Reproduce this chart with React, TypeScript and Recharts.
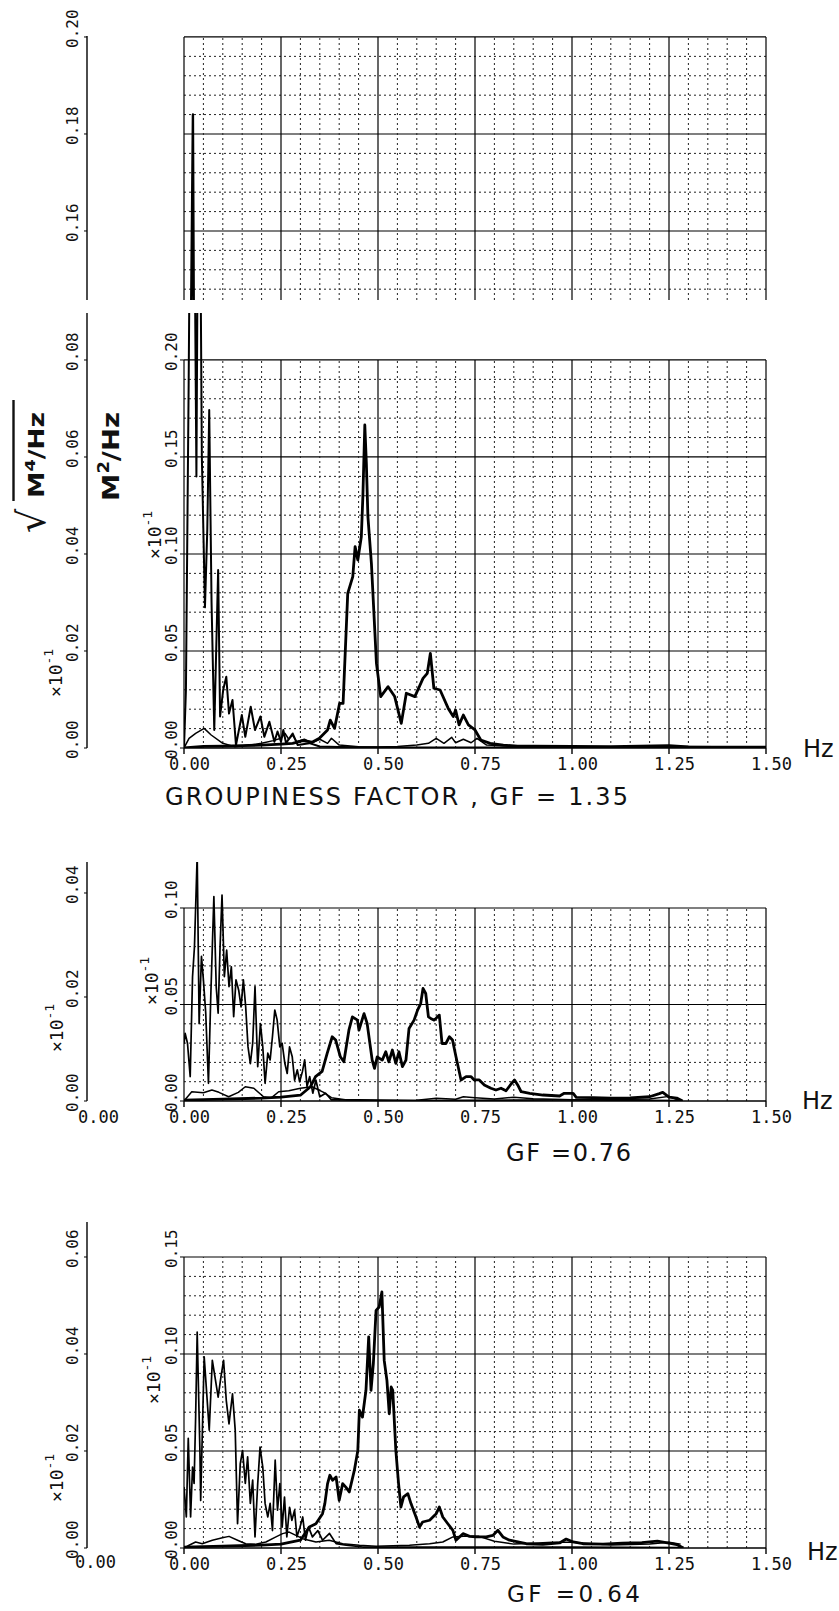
import React from 'react';
import { LineChart, Line, XAxis, YAxis, ReferenceLine } from 'recharts';

const hzTicks = [0, 0.25, 0.5, 0.75, 1.0, 1.25, 1.5];

// ---- GF = 1.35 ----
// envelope spectrum, read on the outer (sqrt(M4/Hz)) axis
const p1EnvHz = [0, 0.005, 0.012, 0.018, 0.023, 0.027, 0.032, 0.037, 0.041, 0.046, 0.054, 0.06, 0.065, 0.071, 0.078, 0.088, 0.093, 0.101, 0.109, 0.116, 0.125, 0.134, 0.149, 0.158, 0.172, 0.183, 0.197, 0.207, 0.22, 0.233, 0.241, 0.25, 0.256, 0.263, 0.28, 0.293, 0.323, 0.35, 0.4, 0.6, 1.0, 1.5];
const p1Env = [0, 0.012, 0.075, 0.14, 0.184, 0.11, 0.056, 0.13, 0.12, 0.06, 0.029, 0.045, 0.0697, 0.03, 0.0037, 0.0367, 0.0065, 0.012, 0.0147, 0.0071, 0.0099, 0.0006, 0.0068, 0.0023, 0.0085, 0.0037, 0.0065, 0.0023, 0.0054, 0.0013, 0.0034, 0.0013, 0.0037, 0.001, 0.003, 0.0006, 0.001, 0.0003, 0.0002, 0.0001, 0.0001, 0];
// wave spectrum, M2/Hz axis
const p1SpecHz = [0, 0.05, 0.1, 0.15, 0.2, 0.25, 0.28, 0.306, 0.33, 0.349, 0.37, 0.377, 0.388, 0.401, 0.41, 0.422, 0.435, 0.441, 0.448, 0.457, 0.461, 0.466, 0.47, 0.474, 0.483, 0.496, 0.507, 0.526, 0.543, 0.56, 0.573, 0.595, 0.616, 0.627, 0.635, 0.644, 0.66, 0.681, 0.694, 0.7, 0.709, 0.72, 0.733, 0.75, 0.765, 0.789, 0.823, 0.86, 0.9, 1.0, 1.1, 1.25, 1.3, 1.5];
const p1Spec = [0, 0.0008, 0.001, 0.0012, 0.0015, 0.002, 0.0024, 0.0038, 0.003, 0.005, 0.0093, 0.0144, 0.0101, 0.023, 0.023, 0.0797, 0.0883, 0.1038, 0.0969, 0.1089, 0.1296, 0.1665, 0.1467, 0.1192, 0.0952, 0.0436, 0.0265, 0.0316, 0.0265, 0.0127, 0.0282, 0.0265, 0.0359, 0.0385, 0.0488, 0.0308, 0.0299, 0.0204, 0.0162, 0.0196, 0.0119, 0.017, 0.0119, 0.0093, 0.0041, 0.0024, 0.0015, 0.001, 0.0009, 0.0008, 0.0007, 0.0012, 0.0006, 0.0004];
const p1LowHz = [0, 0.013, 0.03, 0.052, 0.07, 0.1, 0.13, 0.17, 0.2, 0.23, 0.25, 0.26, 0.27, 0.28, 0.29, 0.31, 0.33, 0.35, 0.37, 0.38, 0.4, 0.45, 0.5, 0.55, 0.6, 0.63, 0.65, 0.67, 0.69, 0.7, 0.72, 0.74, 0.755, 0.78, 0.85, 1.0, 1.25, 1.5];
const p1Low = [0, 0.005, 0.0075, 0.0101, 0.0067, 0.0024, 0.0007, 0.0015, 0.0024, 0.0038, 0.005, 0.0076, 0.0045, 0.0067, 0.0033, 0.0045, 0.0027, 0.0045, 0.0024, 0.005, 0.0015, 0.0007, 0.0005, 0.0008, 0.0015, 0.0024, 0.005, 0.0024, 0.0055, 0.0027, 0.0045, 0.0027, 0.005, 0.0015, 0.0008, 0.0005, 0.0008, 0.0005];

// ---- GF = 0.76 ----
const p2EnvHz = [0, 0.003, 0.009, 0.016, 0.022, 0.027, 0.034, 0.039, 0.045, 0.05, 0.056, 0.063, 0.069, 0.077, 0.083, 0.088, 0.093, 0.098, 0.104, 0.11, 0.116, 0.122, 0.128, 0.134, 0.141, 0.147, 0.153, 0.159, 0.165, 0.171, 0.177, 0.183, 0.19, 0.197, 0.203, 0.209, 0.216, 0.222, 0.228, 0.234, 0.24, 0.247, 0.253, 0.26, 0.266, 0.272, 0.279, 0.285, 0.292, 0.298, 0.305, 0.311, 0.317, 0.324, 0.332, 0.34, 0.35, 0.365, 0.38, 0.45, 0.6, 1.0, 1.28];
const p2Env = [0.011, 0.013, 0.0111, 0.0047, 0.0239, 0.0297, 0.0473, 0.0149, 0.0278, 0.0233, 0.0169, 0.0034, 0.0201, 0.0393, 0.022, 0.0169, 0.0297, 0.0396, 0.0239, 0.029, 0.022, 0.0258, 0.0162, 0.0233, 0.0213, 0.0181, 0.0233, 0.0181, 0.0104, 0.0072, 0.0111, 0.022, 0.0066, 0.0149, 0.0104, 0.0034, 0.0092, 0.0079, 0.0124, 0.0175, 0.0156, 0.0104, 0.0111, 0.0072, 0.0053, 0.0104, 0.0085, 0.004, 0.006, 0.0037, 0.0056, 0.0079, 0.0028, 0.0047, 0.0015, 0.004, 0.0008, 0.0015, 0.0002, 0.0002, 0.0001, 0.0002, 0.0001];
const p2SpecHz = [0, 0.1, 0.2, 0.25, 0.3, 0.326, 0.339, 0.356, 0.369, 0.382, 0.391, 0.403, 0.412, 0.425, 0.434, 0.447, 0.451, 0.464, 0.472, 0.485, 0.491, 0.498, 0.511, 0.52, 0.528, 0.537, 0.546, 0.554, 0.563, 0.572, 0.58, 0.593, 0.602, 0.61, 0.616, 0.623, 0.63, 0.636, 0.645, 0.658, 0.665, 0.675, 0.684, 0.692, 0.701, 0.714, 0.727, 0.74, 0.748, 0.761, 0.774, 0.791, 0.804, 0.817, 0.83, 0.843, 0.852, 0.86, 0.869, 0.891, 0.925, 0.968, 0.98, 1.003, 1.011, 1.054, 1.1, 1.15, 1.2, 1.225, 1.234, 1.25, 1.27, 1.285];
const p2Spec = [0.0005, 0.001, 0.0015, 0.002, 0.003, 0.0074, 0.0126, 0.0153, 0.0247, 0.0333, 0.0316, 0.0229, 0.0203, 0.0367, 0.0436, 0.0419, 0.0367, 0.0453, 0.0402, 0.0212, 0.0169, 0.0229, 0.0212, 0.0255, 0.0203, 0.0264, 0.0195, 0.0255, 0.0178, 0.0212, 0.0376, 0.0419, 0.0471, 0.0505, 0.0583, 0.0557, 0.0436, 0.0428, 0.0419, 0.0445, 0.0298, 0.0298, 0.0333, 0.0316, 0.0229, 0.0109, 0.0126, 0.0126, 0.0109, 0.0109, 0.0083, 0.0066, 0.0057, 0.0066, 0.0053, 0.0088, 0.0109, 0.0083, 0.0048, 0.004, 0.0031, 0.0026, 0.004, 0.004, 0.0019, 0.0017, 0.0015, 0.0016, 0.0022, 0.0038, 0.0045, 0.002, 0.0015, 0];
const p2LowHz = [0, 0.02, 0.05, 0.072, 0.09, 0.115, 0.14, 0.158, 0.18, 0.205, 0.225, 0.244, 0.27, 0.3, 0.33, 0.36, 0.38, 0.42, 0.5, 0.6, 0.65, 0.7, 0.72, 0.75, 0.8, 0.85, 0.9, 0.95, 1.0, 1.1, 1.2, 1.25, 1.27, 1.285];
const p2Low = [0, 0.0048, 0.0043, 0.0057, 0.0045, 0.0022, 0.0045, 0.0074, 0.0066, 0.0022, 0.0016, 0.0048, 0.0053, 0.0066, 0.0074, 0.0045, 0.0017, 0.0005, 0.0003, 0.0004, 0.0014, 0.0009, 0.0022, 0.0017, 0.001, 0.002, 0.0012, 0.0009, 0.0006, 0.0008, 0.001, 0.0024, 0.0008, 0];

// ---- GF = 0.64 ----
const p3EnvHz = [0, 0.006, 0.011, 0.017, 0.022, 0.026, 0.03, 0.034, 0.041, 0.043, 0.052, 0.058, 0.065, 0.073, 0.08, 0.088, 0.095, 0.102, 0.109, 0.116, 0.125, 0.132, 0.138, 0.145, 0.151, 0.158, 0.164, 0.171, 0.177, 0.183, 0.19, 0.196, 0.203, 0.209, 0.216, 0.222, 0.228, 0.235, 0.241, 0.247, 0.253, 0.259, 0.265, 0.272, 0.278, 0.285, 0.291, 0.299, 0.306, 0.313, 0.321, 0.331, 0.345, 0.357, 0.375, 0.392, 0.418, 0.461, 0.6, 1.0, 1.28];
const p3Env = [0.0126, 0.0064, 0.0226, 0.0064, 0.0167, 0.0133, 0.027, 0.0445, 0.0201, 0.0098, 0.0394, 0.0325, 0.0243, 0.0387, 0.0352, 0.0311, 0.0352, 0.0387, 0.0304, 0.0256, 0.0318, 0.0243, 0.005, 0.0174, 0.0201, 0.0133, 0.0188, 0.0092, 0.014, 0.0023, 0.0133, 0.0208, 0.0167, 0.0092, 0.0064, 0.0092, 0.0036, 0.0181, 0.0078, 0.0133, 0.0043, 0.0105, 0.0023, 0.0084, 0.0057, 0.0078, 0.0023, 0.0043, 0.0064, 0.0016, 0.0043, 0.0023, 0.0036, 0.0016, 0.003, 0.0009, 0.0006, 0.0002, 0.0002, 0.0002, 0.0001];
const p3SpecHz = [0, 0.1, 0.2, 0.25, 0.3, 0.323, 0.34, 0.357, 0.363, 0.37, 0.376, 0.383, 0.392, 0.4, 0.409, 0.417, 0.426, 0.439, 0.448, 0.452, 0.46, 0.469, 0.476, 0.482, 0.488, 0.495, 0.503, 0.51, 0.516, 0.523, 0.529, 0.534, 0.538, 0.546, 0.553, 0.559, 0.566, 0.577, 0.585, 0.598, 0.607, 0.615, 0.633, 0.65, 0.658, 0.667, 0.68, 0.693, 0.701, 0.719, 0.736, 0.753, 0.779, 0.796, 0.809, 0.822, 0.839, 0.882, 0.925, 0.968, 0.985, 1.003, 1.028, 1.08, 1.13, 1.18, 1.22, 1.25, 1.27, 1.287];
const p3Spec = [0.0005, 0.001, 0.0015, 0.002, 0.004, 0.0108, 0.0125, 0.0177, 0.0229, 0.0332, 0.0375, 0.0349, 0.0366, 0.0246, 0.0332, 0.0314, 0.0289, 0.04, 0.0503, 0.071, 0.0675, 0.0813, 0.1088, 0.0813, 0.095, 0.1225, 0.1242, 0.132, 0.0967, 0.0864, 0.0692, 0.083, 0.0813, 0.0503, 0.0332, 0.0211, 0.0263, 0.028, 0.0229, 0.016, 0.0108, 0.0134, 0.0143, 0.0177, 0.0211, 0.016, 0.0125, 0.0091, 0.004, 0.0074, 0.006, 0.0057, 0.0057, 0.0065, 0.0091, 0.0057, 0.004, 0.0022, 0.0019, 0.0026, 0.0046, 0.0031, 0.0022, 0.002, 0.0025, 0.0028, 0.0035, 0.0025, 0.0018, 0];
const p3LowHz = [0, 0.013, 0.03, 0.047, 0.073, 0.099, 0.116, 0.138, 0.159, 0.185, 0.211, 0.237, 0.254, 0.271, 0.306, 0.34, 0.374, 0.409, 0.452, 0.495, 0.581, 0.633, 0.667, 0.693, 0.72, 0.76, 0.8, 0.85, 0.9, 0.95, 1.0, 1.1, 1.2, 1.25, 1.28];
const p3Low = [0, 0.0014, 0.0031, 0.0022, 0.004, 0.0053, 0.006, 0.004, 0.0022, 0.0019, 0.0031, 0.0057, 0.0074, 0.0082, 0.0048, 0.0031, 0.004, 0.0022, 0.0014, 0.0009, 0.0014, 0.0022, 0.0031, 0.0057, 0.006, 0.006, 0.0035, 0.002, 0.0025, 0.003, 0.003, 0.0015, 0.002, 0.003, 0.002];

type Pt = { f: number; v: number };
const zip = (hz: number[], vals: number[]): Pt[] =>
  hz.slice(0, vals.length).map((f, i) => ({ f, v: vals[i] }));

const MONO = '"DejaVu Sans Mono", monospace';
const SANS = '"DejaVu Sans", sans-serif';

type AxisId = 'inner' | 'outer';
interface Series { axis: AxisId; data: Pt[]; width: number }

interface PanelProps {
  top: number;
  height: number;
  plotTop: number;
  plotBottom: number;
  innerDomain: [number, number];
  outerDomain: [number, number];
  innerTicks: number[];
  outerTicks: number[];
  gridAxis: AxisId;
  gridMin: number;
  gridTop: number;
  gridStep: number;
  majorStep: number;
  series: Series[];
  showX: boolean;
}

const yTick = (dx: number) => (p: any) => (
  <text
    transform={`translate(${p.x + dx},${p.y + 11}) rotate(-90)`}
    fontFamily={MONO}
    fontSize={16}
    fill="#111"
  >
    {Number(p.payload.value).toFixed(2)}
  </text>
);

const xTick = (p: any) => (
  <text x={p.x - 15} y={p.y + 14} fontFamily={MONO} fontSize={17} fill="#111">
    {Number(p.payload.value).toFixed(2)}
  </text>
);

const isMajor = (v: number, s: number) => Math.abs(v / s - Math.round(v / s)) < 1e-6;

function Panel(props: PanelProps) {
  const {
    top, height, plotTop, plotBottom, innerDomain, outerDomain, innerTicks, outerTicks,
    gridAxis, gridMin, gridTop, gridStep, majorStep, series, showX,
  } = props;
  const xAxisH = showX ? 30 : 0;
  const margin = { top: plotTop - top, right: 73, bottom: top + height - plotBottom - xAxisH, left: 7 };

  const hLines: number[] = [];
  for (let k = Math.ceil(gridMin / gridStep - 1e-6); k * gridStep <= gridTop + 1e-6; k++) {
    const v = +(k * gridStep).toFixed(4);
    if (v > 0) hLines.push(v);
  }
  const vLines = Array.from({ length: 31 }, (_, k) => +(k * 0.05).toFixed(2));

  const major = { stroke: '#000', strokeWidth: 1.2 };
  const minor = { stroke: '#222', strokeWidth: 1, strokeDasharray: '2 3' };

  return (
    <div style={{ position: 'absolute', left: 0, top }}>
      <LineChart width={839} height={height} margin={margin}>
        <XAxis
          dataKey="f"
          type="number"
          domain={[0, 1.5]}
          ticks={hzTicks}
          interval={0}
          hide={!showX}
          height={30}
          tickSize={6}
          tickMargin={2}
          tick={xTick}
          axisLine={{ stroke: '#000', strokeWidth: 1.6 }}
          tickLine={{ stroke: '#000', strokeWidth: 1.4 }}
          allowDataOverflow
        />
        <YAxis
          yAxisId="inner"
          width={97}
          type="number"
          domain={innerDomain}
          allowDataOverflow
          ticks={innerTicks}
          interval={0}
          axisLine={false}
          tickSize={4}
          tickMargin={3}
          tickLine={innerTicks.length ? { stroke: '#000' } : false}
          tick={innerTicks.length ? yTick(0) : false}
        />
        <YAxis
          yAxisId="outer"
          width={80}
          type="number"
          domain={outerDomain}
          allowDataOverflow
          ticks={outerTicks}
          interval={0}
          axisLine={{ stroke: '#000', strokeWidth: 1.4 }}
          tickSize={3}
          tickMargin={3}
          tickLine={{ stroke: '#000' }}
          tick={yTick(-3)}
        />
        {hLines.map((v) => (
          <ReferenceLine
            key={`h${v}`}
            yAxisId={gridAxis}
            ifOverflow="visible"
            segment={[{ x: 0, y: v }, { x: 1.5, y: v }]}
            {...(isMajor(v, majorStep) ? major : minor)}
          />
        ))}
        {vLines.map((f) => (
          <ReferenceLine
            key={`v${f}`}
            yAxisId={gridAxis}
            ifOverflow="visible"
            segment={[{ x: f, y: gridMin }, { x: f, y: gridTop }]}
            {...(isMajor(f, 0.25) ? major : minor)}
          />
        ))}
        {series.map((s, i) => (
          <Line
            key={i}
            yAxisId={s.axis}
            data={s.data}
            dataKey="v"
            type="linear"
            dot={false}
            stroke="#000"
            strokeWidth={s.width}
            strokeLinejoin="round"
            isAnimationActive={false}
          />
        ))}
      </LineChart>
    </div>
  );
}

const Times10 = ({ x, y }: { x: number; y: number }) => (
  <text transform={`translate(${x},${y}) rotate(-90)`} fontFamily={MONO} fontSize={18} fill="#111">
    ×10<tspan dy={-9} fontSize={13}>-1</tspan>
  </text>
);

export default function App() {
  const env1 = zip(p1EnvHz, p1Env);
  return (
    <div style={{ position: 'absolute', left: 0, top: 0, width: 839, height: 1611, background: '#fff' }}>
      {/* GF = 1.35, upper (broken) part of the outer axis */}
      <Panel
        top={0} height={300} plotTop={36} plotBottom={300}
        innerDomain={[0, 1]} outerDomain={[0.14577, 0.2002]}
        innerTicks={[]} outerTicks={[0.16, 0.18, 0.2]}
        gridAxis="outer" gridMin={0.14577} gridTop={0.2} gridStep={0.004} majorStep={0.02}
        series={[{ axis: 'outer', data: env1, width: 2.4 }]}
        showX={false}
      />
      <Panel
        top={300} height={480} plotTop={313} plotBottom={748}
        innerDomain={[0, 0.2242]} outerDomain={[0, 0.08969]}
        innerTicks={[0, 0.05, 0.1, 0.15, 0.2]} outerTicks={[0, 0.02, 0.04, 0.06, 0.08]}
        gridAxis="inner" gridMin={0} gridTop={0.2} gridStep={0.01} majorStep={0.05}
        series={[
          { axis: 'inner', data: zip(p1LowHz, p1Low), width: 1.5 },
          { axis: 'outer', data: env1, width: 2 },
          { axis: 'inner', data: zip(p1SpecHz, p1Spec), width: 2.8 },
        ]}
        showX
      />
      {/* GF = 0.76 */}
      <Panel
        top={850} height={290} plotTop={862} plotBottom={1101}
        innerDomain={[0, 0.12383]} outerDomain={[0, 0.04596]}
        innerTicks={[0, 0.05, 0.1]} outerTicks={[0, 0.02, 0.04]}
        gridAxis="inner" gridMin={0} gridTop={0.1} gridStep={0.01} majorStep={0.05}
        series={[
          { axis: 'inner', data: zip(p2LowHz, p2Low), width: 1.5 },
          { axis: 'outer', data: zip(p2EnvHz, p2Env), width: 1.7 },
          { axis: 'inner', data: zip(p2SpecHz, p2Spec), width: 2.8 },
        ]}
        showX
      />
      {/* GF = 0.64 */}
      <Panel
        top={1210} height={401} plotTop={1222} plotBottom={1548}
        innerDomain={[0, 0.16804]} outerDomain={[0, 0.067216]}
        innerTicks={[0, 0.05, 0.1, 0.15]} outerTicks={[0, 0.02, 0.04, 0.06]}
        gridAxis="inner" gridMin={0} gridTop={0.15} gridStep={0.01} majorStep={0.05}
        series={[
          { axis: 'inner', data: zip(p3LowHz, p3Low), width: 1.5 },
          { axis: 'outer', data: zip(p3EnvHz, p3Env), width: 1.7 },
          { axis: 'inner', data: zip(p3SpecHz, p3Spec), width: 2.8 },
        ]}
        showX
      />

      <svg
        width={839}
        height={1611}
        style={{ position: 'absolute', left: 0, top: 0, pointerEvents: 'none' }}
      >
        {/* axis titles */}
        <text transform="translate(45,533) rotate(-90)" fontFamily={SANS} fontSize={38} fill="#111">√</text>
        <line x1={13.5} y1={501} x2={13.5} y2={400} stroke="#111" strokeWidth={2.4} />
        <text
          transform="translate(44,498) rotate(-90)"
          fontFamily={SANS} fontSize={21} fontWeight="bold" fill="#111"
          textLength={86} lengthAdjust="spacingAndGlyphs"
        >
          M<tspan dy={-9} fontSize={14}>4</tspan><tspan dy={9}>/Hz</tspan>
        </text>
        <text
          transform="translate(119,501) rotate(-90)"
          fontFamily={SANS} fontSize={23} fontWeight="bold" fill="#111"
          textLength={89} lengthAdjust="spacingAndGlyphs"
        >
          M<tspan dy={-10} fontSize={15}>2</tspan><tspan dy={10}>/Hz</tspan>
        </text>

        <Times10 x={62} y={697} />
        <Times10 x={161} y={559} />
        <Times10 x={63} y={1052} />
        <Times10 x={158} y={1005} />
        <Times10 x={63} y={1502} />
        <Times10 x={160} y={1404} />

        <text x={803} y={757} fontFamily={SANS} fontSize={24} fill="#111">Hz</text>
        <text x={802} y={1109} fontFamily={SANS} fontSize={24} fill="#111">Hz</text>
        <text x={807} y={1560} fontFamily={SANS} fontSize={24} fill="#111">Hz</text>

        <text x={78} y={1123} fontFamily={MONO} fontSize={17} fill="#111">0.00</text>
        <text x={75} y={1568} fontFamily={MONO} fontSize={17} fill="#111">0.00</text>

        <text x={165} y={805} fontFamily={SANS} fontSize={24} fill="#111" textLength={463} lengthAdjust="spacing">
          GROUPINESS FACTOR , GF = 1.35
        </text>
        <text x={506} y={1161} fontFamily={SANS} fontSize={24} fill="#111" textLength={125} lengthAdjust="spacing">
          GF =0.76
        </text>
        <text x={507} y={1602} fontFamily={SANS} fontSize={23} fill="#111" textLength={133} lengthAdjust="spacing">
          GF =0.64
        </text>
      </svg>
    </div>
  );
}
